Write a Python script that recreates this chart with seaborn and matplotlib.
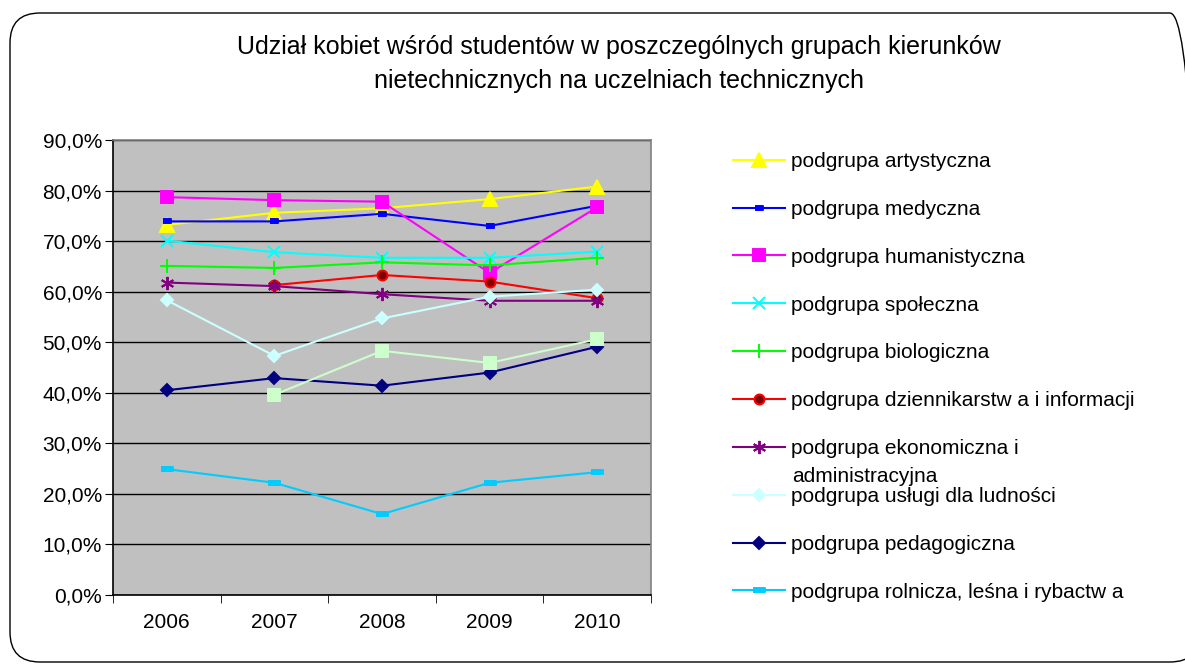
import numpy as np
import pandas as pd
import seaborn as sns
import matplotlib.pyplot as plt
from matplotlib.patches import FancyBboxPatch

# ----------------------------
# Data (share of women, %)
# ----------------------------
years = ["2006", "2007", "2008", "2009", "2010"]

artystyczna = [73.2, 75.6, 76.5, 78.3, 80.8]
medyczna = [73.9, 73.9, 75.4, 73.0, 77.0]
humanistyczna = [78.7, 78.1, 77.8, 63.7, 76.7]
spoleczna = [70.1, 67.8, 66.7, 66.7, 67.9]
biologiczna = [65.1, 64.7, 65.8, 65.2, 66.7]
dziennikarstwa = [np.nan, 61.3, 63.3, 62.0, 58.7]
ekonomiczna = [61.8, 61.1, 59.5, 58.2, 58.2]
uslugi = [58.3, 47.3, 54.7, 59.0, 60.4]
pedagogiczna = [40.5, 42.9, 41.4, 44.0, 49.1]
rolnicza = [24.9, 22.2, 16.0, 22.2, 24.3]
ochrona = [np.nan, 39.6, 48.3, 45.9, 50.6]

labels = [
    "podgrupa artystyczna",
    "podgrupa medyczna",
    "podgrupa humanistyczna",
    "podgrupa społeczna",
    "podgrupa biologiczna",
    "podgrupa dziennikarstw a i informacji",
    "podgrupa ekonomiczna i",
    "podgrupa usługi dla ludności",
    "podgrupa pedagogiczna",
    "podgrupa rolnicza, leśna i rybactw a",
    "_nolegend_",  # last legend entry is cut off in the original
]
series = [artystyczna, medyczna, humanistyczna, spoleczna, biologiczna,
          dziennikarstwa, ekonomiczna, uslugi, pedagogiczna, rolnicza, ochrona]

# ----------------------------
# Styles (colour, marker, size, face, edge)
# ----------------------------
dash_small = [(-1, -0.45), (1, -0.45), (1, 0.45), (-1, 0.45)]
dash_wide = [(-1, -0.3), (1, -0.3), (1, 0.3), (-1, 0.3)]
styles = [
    ("#FFFF00", "^", 9.4, "#FFFF00", "#FFFF00"),
    ("#0000FF", dash_small, 5.4, "#0000FF", "#0000FF"),
    ("#FF00FF", "s", 8.5, "#FF00FF", "#FF00FF"),
    ("#00FFFF", "x", 8.6, "#00FFFF", "#00FFFF"),
    ("#00FF00", "+", 9.4, "#00FF00", "#00FF00"),
    ("#FF0000", "o", 7.2, "#800000", "#FF0000"),
    ("#800080", (6, 2, 0), 9.5, "#800080", "#800080"),
    ("#CCFFFF", "D", 6.6, "#CCFFFF", "#CCFFFF"),
    ("#000080", "D", 6.6, "#000080", "#000080"),
    ("#00CCFF", dash_wide, 8.6, "#00CCFF", "#00CCFF"),
    ("#CCFFCC", "s", 8.0, "#CCFFCC", "#CCFFCC"),
]

plt.rcParams["font.family"] = ["Liberation Sans", "DejaVu Sans"]

W, H = 1185, 665
fig = plt.figure(figsize=(W / 100, H / 100), dpi=100)
fig.patch.set_facecolor("white")

# rounded chart frame
frame = FancyBboxPatch((0.10, 0.03), 11.9, 6.49,
                       boxstyle="round,pad=0,rounding_size=0.3",
                       transform=fig.dpi_scale_trans, facecolor="none",
                       edgecolor="black", linewidth=1.0, zorder=0)
fig.patches.append(frame)

ax = fig.add_axes([113 / W, (H - 595) / H, (651 - 113) / W, (595 - 140) / H])
ax.set_facecolor("#C0C0C0")

x = np.arange(len(years))
for lab, vals, (col, mk, ms, fc, ec) in zip(labels, series, styles):
    df = pd.DataFrame({"x": x, "y": np.array(vals) / 100.0}).dropna()
    sns.lineplot(data=df, x="x", y="y", ax=ax, color=col, linewidth=1.5,
                 marker=mk, markersize=ms, markerfacecolor=fc,
                 markeredgecolor=ec, markeredgewidth=1.4, label=lab,
                 legend=False, zorder=3)

ax.set_xlim(-0.5, len(years) - 0.5)
ax.set_ylim(0, 0.9)
yt = np.round(np.arange(0, 0.91, 0.1), 2)
ax.set_yticks(yt)
ax.set_yticklabels([f"{v * 100:.1f}%".replace(".", ",") for v in yt], fontsize=15)
ax.set_xticks(x)
ax.set_xticklabels(years, fontsize=15)
ax.set_xticks(np.arange(-0.5, len(years)), minor=True)
ax.tick_params(axis="x", which="major", length=0, pad=13)
ax.tick_params(axis="x", which="minor", length=6, direction="out", color="black")
ax.tick_params(axis="y", length=6, direction="out", pad=2, color="black")
ax.set_xlabel("")
ax.set_ylabel("")

ax.yaxis.grid(True, color="black", linewidth=1.0)
ax.xaxis.grid(False)
ax.set_axisbelow(True)
for side in ["top", "right"]:
    ax.spines[side].set_color("#808080")
    ax.spines[side].set_linewidth(1.2)
for side in ["left", "bottom"]:
    ax.spines[side].set_color("black")
    ax.spines[side].set_linewidth(1.2)

# title
fig.text(619 / W, 1 - 64 / H,
         "Udział kobiet wśród studentów w poszczególnych grupach kierunków\n"
         "nietechnicznych na uczelniach technicznych",
         ha="center", va="center", fontsize=18, linespacing=1.55)

# legend
handles, labs = ax.get_legend_handles_labels()
leg = fig.legend(handles, labs, loc="upper left",
                 bbox_to_anchor=(733 / W, 1 - 152 / H), frameon=False,
                 fontsize=15, handlelength=2.5, handletextpad=0.3,
                 labelspacing=1.385, borderpad=0, borderaxespad=0)
fig.text(792 / W, 1 - 476 / H, "administracyjna", ha="left", va="center",
         fontsize=15)

fig.savefig("out.png", dpi=100)
